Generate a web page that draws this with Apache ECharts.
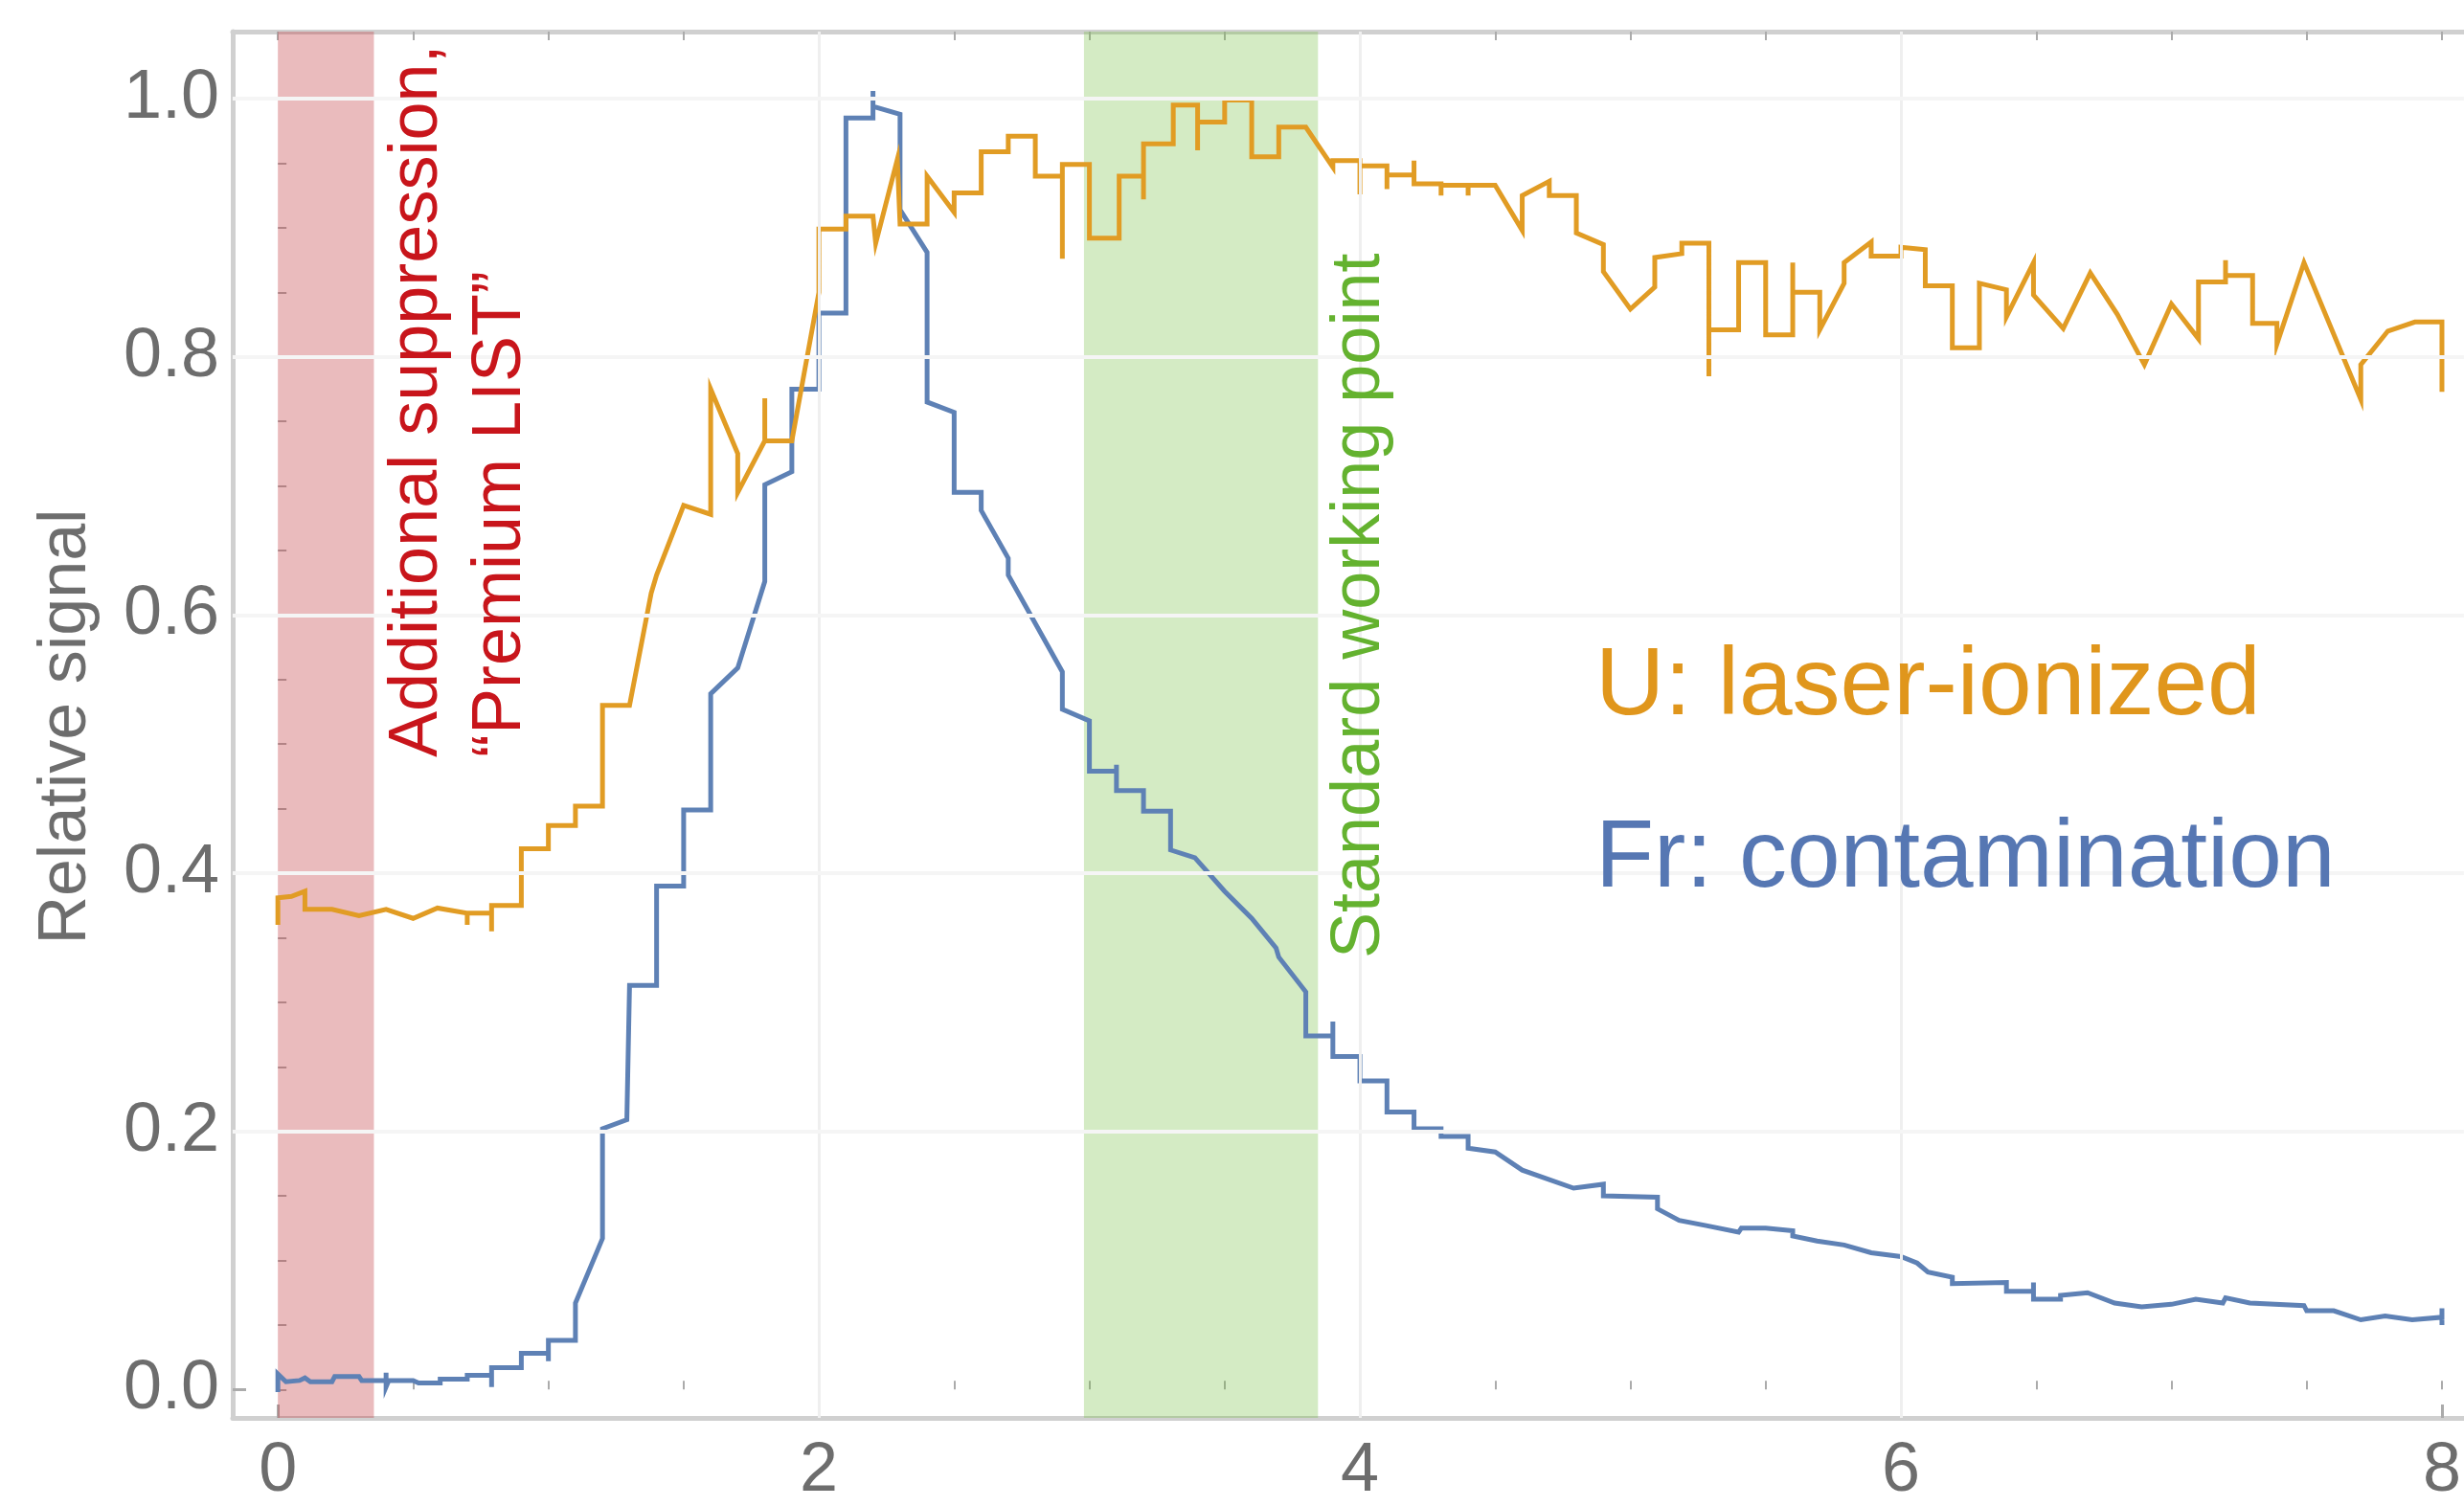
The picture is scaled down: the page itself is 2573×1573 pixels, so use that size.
<!DOCTYPE html>
<html>
<head>
<meta charset="utf-8">
<script src="https://cdn.jsdelivr.net/npm/echarts@6/dist/echarts.min.js"></script>
<style>
html,body{margin:0;padding:0;background:#ffffff;}
#chart{width:2573px;height:1573px;}
</style>
</head>
<body>
<div id="chart"></div>
<script>
// ---- Data ----
// Fr: contamination (blue), [x, relative signal]
const frSignal = [
  [0.00,-0.002],[0.00,0.012],[0.03,0.006],[0.08,0.007],[0.10,0.009],[0.12,0.006],[0.20,0.006],[0.21,0.010],
  [0.30,0.010],[0.31,0.007],[0.40,0.007],[0.40,0.013],[0.40,0.002],[0.41,0.007],[0.50,0.007],[0.52,0.005],
  [0.60,0.005],[0.60,0.008],[0.70,0.008],[0.70,0.011],[0.79,0.011],[0.79,0.002],[0.79,0.017],[0.90,0.017],
  [0.90,0.028],[1.00,0.028],[1.00,0.022],[1.00,0.038],[1.10,0.038],[1.10,0.067],[1.20,0.117],[1.20,0.202],
  [1.29,0.209],[1.30,0.313],[1.40,0.313],[1.40,0.390],[1.50,0.390],[1.50,0.449],[1.60,0.449],[1.60,0.539],
  [1.70,0.559],[1.80,0.626],[1.80,0.701],[1.90,0.711],[1.90,0.775],[2.00,0.775],[2.00,0.834],[2.10,0.834],
  [2.10,0.985],[2.20,0.985],[2.20,1.006],[2.20,0.994],[2.30,0.988],[2.30,0.914],[2.40,0.881],[2.40,0.765],
  [2.50,0.757],[2.50,0.695],[2.60,0.695],[2.60,0.681],[2.70,0.644],[2.70,0.631],[2.90,0.556],[2.90,0.527],
  [3.00,0.518],[3.00,0.479],[3.10,0.479],[3.10,0.484],[3.10,0.464],[3.20,0.464],[3.20,0.448],[3.30,0.448],
  [3.30,0.418],[3.39,0.412],[3.50,0.386],[3.60,0.365],[3.69,0.342],[3.70,0.335],[3.80,0.308],[3.80,0.274],
  [3.90,0.274],[3.90,0.285],[3.90,0.258],[4.00,0.258],[4.00,0.239],[4.10,0.239],[4.10,0.215],[4.20,0.215],
  [4.20,0.202],[4.30,0.202],[4.30,0.196],[4.40,0.196],[4.40,0.187],[4.50,0.184],[4.60,0.170],[4.79,0.156],
  [4.90,0.159],[4.90,0.150],[5.10,0.149],[5.10,0.140],[5.18,0.131],[5.28,0.127],[5.40,0.122],[5.41,0.125],
  [5.50,0.125],[5.60,0.123],[5.60,0.119],[5.69,0.115],[5.79,0.112],[5.89,0.106],[6.00,0.103],[6.06,0.098],
  [6.10,0.091],[6.19,0.087],[6.19,0.082],[6.39,0.083],[6.39,0.076],[6.49,0.076],[6.49,0.083],[6.49,0.070],
  [6.59,0.070],[6.59,0.073],[6.69,0.075],[6.79,0.067],[6.89,0.064],[7.00,0.066],[7.09,0.070],[7.19,0.067],
  [7.20,0.071],[7.29,0.067],[7.49,0.065],[7.50,0.061],[7.60,0.061],[7.70,0.054],[7.79,0.057],[7.89,0.054],
  [8.00,0.056],[8.00,0.063],[8.00,0.050]
];
// U: laser-ionized (orange), [x, relative signal]
const uSignal = [
  [0.00,0.360],[0.00,0.381],[0.05,0.382],[0.10,0.386],[0.10,0.372],[0.20,0.372],[0.30,0.367],[0.40,0.372],
  [0.50,0.365],[0.59,0.373],[0.70,0.369],[0.70,0.360],[0.70,0.369],[0.79,0.369],[0.79,0.355],[0.79,0.375],
  [0.90,0.375],[0.90,0.419],[1.00,0.419],[1.00,0.437],[1.10,0.437],[1.10,0.452],[1.20,0.452],[1.20,0.530],
  [1.30,0.530],[1.38,0.617],[1.40,0.631],[1.50,0.685],[1.60,0.678],[1.60,0.775],[1.70,0.725],[1.70,0.695],
  [1.80,0.735],[1.80,0.768],[1.80,0.735],[1.90,0.735],[2.00,0.850],[2.00,0.899],[2.10,0.899],[2.10,0.909],
  [2.20,0.909],[2.21,0.888],[2.29,0.953],[2.30,0.903],[2.40,0.903],[2.40,0.940],[2.50,0.912],[2.50,0.927],
  [2.60,0.927],[2.60,0.959],[2.70,0.959],[2.70,0.971],[2.80,0.971],[2.80,0.940],[2.90,0.940],[2.90,0.876],
  [2.90,0.949],[3.00,0.949],[3.00,0.892],[3.11,0.892],[3.11,0.940],[3.20,0.940],[3.20,0.922],[3.20,0.965],
  [3.31,0.965],[3.31,0.995],[3.40,0.995],[3.40,0.960],[3.40,0.982],[3.50,0.982],[3.50,0.999],[3.60,0.999],
  [3.60,0.955],[3.70,0.955],[3.70,0.978],[3.80,0.978],[3.90,0.947],[3.90,0.952],[4.00,0.952],[4.00,0.926],
  [4.00,0.948],[4.10,0.948],[4.10,0.930],[4.10,0.941],[4.20,0.941],[4.20,0.952],[4.20,0.934],[4.30,0.934],
  [4.30,0.925],[4.30,0.933],[4.40,0.933],[4.40,0.925],[4.40,0.933],[4.50,0.933],[4.60,0.898],[4.60,0.925],
  [4.70,0.936],[4.70,0.925],[4.80,0.925],[4.80,0.896],[4.90,0.887],[4.90,0.866],[5.00,0.837],[5.09,0.854],
  [5.09,0.877],[5.19,0.880],[5.19,0.888],[5.29,0.888],[5.29,0.785],[5.29,0.821],[5.40,0.821],[5.40,0.873],
  [5.50,0.873],[5.50,0.817],[5.60,0.817],[5.60,0.873],[5.60,0.850],[5.70,0.850],[5.70,0.821],[5.79,0.857],
  [5.79,0.873],[5.89,0.889],[5.89,0.878],[6.00,0.878],[6.00,0.885],[6.09,0.883],[6.09,0.855],[6.19,0.855],
  [6.19,0.807],[6.29,0.807],[6.29,0.857],[6.39,0.852],[6.39,0.831],[6.49,0.873],[6.49,0.848],[6.60,0.822],
  [6.70,0.865],[6.80,0.833],[6.90,0.794],[7.00,0.841],[7.10,0.814],[7.10,0.858],[7.20,0.858],[7.20,0.875],
  [7.20,0.863],[7.30,0.863],[7.30,0.826],[7.39,0.826],[7.39,0.810],[7.49,0.873],[7.70,0.767],[7.70,0.794],
  [7.80,0.820],[7.90,0.827],[8.00,0.827],[8.00,0.773]
];
// Ticks, grid lines and shaded bands
const xMajorTicks = [0, 2, 4, 6, 8];
const xMinorTicks = [0, 0.5, 1, 1.5, 2, 2.5, 3, 3.5, 4, 4.5, 5, 5.5, 6, 6.5, 7, 7.5, 8];
const yMajorTicks = [0, 0.2, 0.4, 0.6, 0.8, 1.0];
const yMinorTicks = [0, 0.05, 0.1, 0.15, 0.2, 0.25, 0.3, 0.35, 0.4, 0.45, 0.5, 0.55, 0.6, 0.65, 0.7, 0.75, 0.8, 0.85, 0.9, 0.95, 1.0];
const xGridLines = [2, 4, 6];
const yGridLines = [0.2, 0.4, 0.6, 0.8, 1.0];
const premiumBand = [0, 0.355];
const workingBand = [2.98, 3.845];
const xRange = [-0.167, 8.081];
const yRange = [-0.022, 1.052];

const FONT = '"Liberation Sans", Arial, sans-serif';
const AXIS_COLOR = '#d0d0d0';
const TICK_COLOR = '#ababab';
const LABEL_COLOR = '#6d6d6d';

const chart = echarts.init(document.getElementById('chart'), null, {renderer: 'canvas'});

function tickAxis(extra) {
  return Object.assign({
    type: 'value', min: xRange[0], max: xRange[1], gridIndex: 0,
    axisLine: {show: false}, axisLabel: {show: false}, splitLine: {show: false},
    minorTick: {show: false}, minorSplitLine: {show: false}
  }, extra);
}
function tickAxisY(extra) {
  return Object.assign({
    type: 'value', min: yRange[0], max: yRange[1], gridIndex: 0,
    axisLine: {show: false}, axisLabel: {show: false}, splitLine: {show: false},
    minorTick: {show: false}, minorSplitLine: {show: false}
  }, extra);
}

const option = {
  animation: false,
  backgroundColor: '#ffffff',
  grid: {left: 243, top: 33, right: 0, bottom: 86, containLabel: false},
  xAxis: [
    tickAxis({
      position: 'bottom',
      axisLine: {show: true, onZero: false, lineStyle: {color: AXIS_COLOR, width: 5}},
      axisTick: {show: true, inside: true, length: 14, customValues: xMajorTicks, lineStyle: {color: TICK_COLOR, width: 3}},
      axisLabel: {show: true, customValues: xMajorTicks, fontSize: 72, fontFamily: FONT, color: LABEL_COLOR, margin: 20,
        formatter: v => String(Math.round(v))}
    }),
    tickAxis({
      position: 'bottom',
      axisTick: {show: true, inside: true, length: 9, customValues: xMinorTicks, lineStyle: {color: TICK_COLOR, width: 2}}
    }),
    tickAxis({
      position: 'top',
      axisLine: {show: true, onZero: false, lineStyle: {color: AXIS_COLOR, width: 5}},
      axisTick: {show: true, inside: true, length: 9, customValues: xMinorTicks, lineStyle: {color: TICK_COLOR, width: 2}}
    })
  ],
  yAxis: [
    tickAxisY({
      position: 'left',
      axisLine: {show: true, onZero: false, lineStyle: {color: AXIS_COLOR, width: 5}},
      axisTick: {show: true, inside: true, length: 14, customValues: yMajorTicks, lineStyle: {color: TICK_COLOR, width: 3}},
      axisLabel: {show: true, customValues: yMajorTicks, fontSize: 72, fontFamily: FONT, color: LABEL_COLOR, margin: 14,
        formatter: v => v.toFixed(1)}
    }),
    tickAxisY({
      position: 'left',
      axisTick: {show: true, inside: true, length: 9, customValues: yMinorTicks, lineStyle: {color: TICK_COLOR, width: 2}}
    })
  ],
  series: [
    {
      name: 'grid', type: 'line', data: [], z: 1, silent: true,
      markLine: {
        silent: true, symbol: ['none', 'none'], label: {show: false}, animation: false,
        lineStyle: {color: '#efefef', width: 3, type: 'solid'},
        data: xGridLines.map(v => ({xAxis: v})).concat(yGridLines.map(v => ({yAxis: v, lineStyle: {color: '#f5f5f5', width: 4, type: 'solid'}})))
      }
    },
    {
      name: 'Fr: contamination', type: 'line', data: frSignal, z: 2,
      showSymbol: false, symbol: 'none', smooth: false, sampling: false,
      lineStyle: {color: '#5E81B5', width: 5, join: 'miter'}
    },
    {
      name: 'U: laser-ionized', type: 'line', data: uSignal, z: 3,
      showSymbol: false, symbol: 'none', smooth: false, sampling: false,
      lineStyle: {color: '#E19C24', width: 5, join: 'miter'}
    },
    {
      name: 'bands', type: 'line', data: [], z: 6, silent: true,
      markArea: {
        silent: true, animation: false,
        data: [
          [{xAxis: premiumBand[0], itemStyle: {color: 'rgba(192,57,63,0.34)'}}, {xAxis: premiumBand[1]}],
          [{xAxis: workingBand[0], itemStyle: {color: 'rgba(112,190,60,0.30)'}}, {xAxis: workingBand[1]}]
        ]
      }
    }
  ],
  graphic: [
    {type: 'rect', z: 4, silent: true, shape: {x: 1608, y: 575, width: 965, height: 425}, style: {fill: '#ffffff'}},
    {type: 'text', z: 10, x: 70, y: 759, rotation: Math.PI / 2,
      style: {text: 'Relative signal', font: '70px ' + FONT, fill: '#6d6d6d', textAlign: 'center', textVerticalAlign: 'middle'}},
    {type: 'text', z: 10, x: 436, y: 791, rotation: Math.PI / 2,
      style: {text: 'Additional suppression,', font: '72px ' + FONT, fill: '#C8151B', textAlign: 'left', textVerticalAlign: 'middle'}},
    {type: 'text', z: 10, x: 523, y: 791, rotation: Math.PI / 2,
      style: {text: '\u201CPremium LIST\u201D', font: '72px ' + FONT, fill: '#C8151B', textAlign: 'left', textVerticalAlign: 'middle'}},
    {type: 'text', z: 10, x: 1420, y: 1001, rotation: Math.PI / 2,
      style: {text: 'Standard working point', font: '72px ' + FONT, fill: '#64B22F', textAlign: 'left', textVerticalAlign: 'middle'}},
    {type: 'text', z: 10, x: 1666, y: 718,
      style: {text: 'U: laser-ionized', font: '100px ' + FONT, fill: '#E0961C', textAlign: 'left', textVerticalAlign: 'middle'}},
    {type: 'text', z: 10, x: 1666, y: 898,
      style: {text: 'Fr: contamination', font: '100px ' + FONT, fill: '#5677B3', textAlign: 'left', textVerticalAlign: 'middle'}}
  ]
};
chart.setOption(option);
</script>
</body>
</html>
